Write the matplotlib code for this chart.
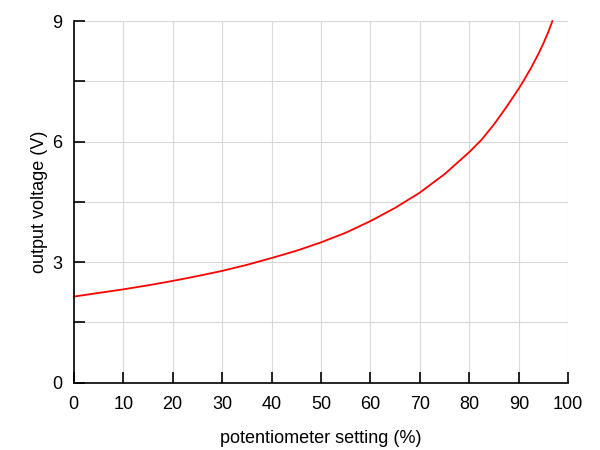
import numpy as np
import matplotlib
matplotlib.use("Agg")
import matplotlib.pyplot as plt
from matplotlib.ticker import MultipleLocator

# values
setting = [0, 5, 10, 15, 20, 25, 30, 35, 40, 45, 50, 55, 60, 65, 70, 75,
           80, 82.5, 85, 87.5, 90, 91, 92.5, 94, 95, 96, 96.8]
voltage = [2.14, 2.23, 2.32, 2.42, 2.53, 2.65, 2.78, 2.93, 3.10, 3.28, 3.49,
           3.73, 4.02, 4.35, 4.73, 5.19, 5.74, 6.05, 6.43, 6.86, 7.32, 7.52,
           7.84, 8.19, 8.45, 8.74, 9.0]

plt.rcParams['font.family'] = ['Liberation Sans', 'DejaVu Sans']

fig = plt.figure(figsize=(6, 4.5), dpi=100)
ax = fig.add_axes([0.123, 0.150, 0.824, 0.803])

ax.plot(setting, voltage, color="red", lw=1.3, clip_on=False)

ax.set_xlim(0, 100)
ax.set_ylim(0, 9)
ax.xaxis.set_major_locator(MultipleLocator(10))
ax.yaxis.set_major_locator(MultipleLocator(3))
ax.yaxis.set_minor_locator(MultipleLocator(1.5))

ax.grid(True, which="both", color="#d9d9d9", lw=0.8)
ax.set_axisbelow(True)
for s in ["top", "right"]:
    ax.spines[s].set_visible(False)
for s in ["left", "bottom"]:
    ax.spines[s].set_linewidth(1.2)

ax.tick_params(axis="both", which="both", direction="in", length=8, width=1.2,
               labelsize=13)
ax.tick_params(axis="x", pad=10)
ax.tick_params(axis="y", pad=8)

ax.set_xlabel("potentiometer setting (%)", fontsize=13, labelpad=12)
ax.set_ylabel("output voltage (V)", fontsize=13, labelpad=3)

fig.savefig("out.png", dpi=100)
